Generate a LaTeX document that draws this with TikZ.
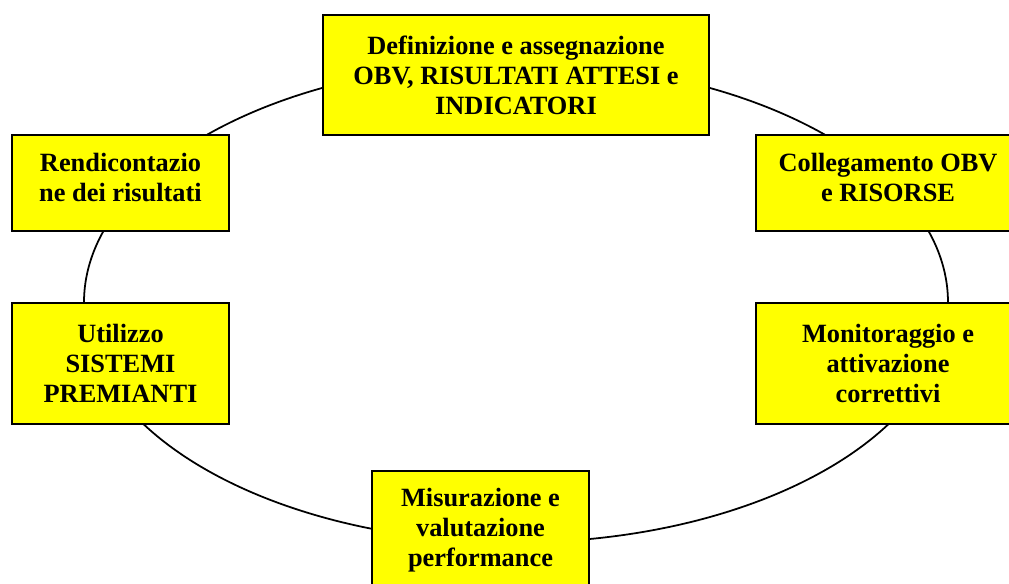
\documentclass[tikz,border=0pt]{standalone}
\usepackage{fontspec}
\setmainfont{Liberation Serif}
\usetikzlibrary{positioning}
\definecolor{phaseyellow}{RGB}{255,255,0}
\tikzset{phase/.style={draw, line width=1.1pt, fill=phaseyellow, align=center, inner sep=0pt,
  font=\bfseries\fontsize{15pt}{17pt}\selectfont}}
\tikzset{twoline/.style={text depth=6.5pt}}

\begin{document}
\begin{tikzpicture}[x=0.02cm, y=-0.02cm]
\useasboundingbox (0,0) rectangle (1009,584);
\clip (0,0) rectangle (1009,584);
\coordinate (C) at (516,302.5);
\draw [line width=1pt] (C) ellipse [x radius=432, y radius=240];

\node (DEF) [phase, minimum width=7.72cm, minimum height=2.4cm] at (516,75)
  {Definizione e assegnazione\\OBV, RISULTATI ATTESI e\\INDICATORI};
\node (REN) [phase, twoline, minimum width=4.34cm, minimum height=1.92cm] at (120.5,183)
  {Rendicontazio\\ne dei risultati};
\node (COL) [phase, twoline, minimum width=5.28cm, minimum height=1.92cm] at (888,183)
  {Collegamento OBV\\e RISORSE};
\node (UTI) [phase, minimum width=4.34cm, minimum height=2.42cm] at (120.5,363.5)
  {Utilizzo\\SISTEMI\\PREMIANTI};
\node (MON) [phase, minimum width=5.28cm, minimum height=2.42cm] at (888,363.5)
  {Monitoraggio e\\attivazione\\correttivi};
\node (MIS) [phase, minimum width=4.34cm, minimum height=2.36cm] at (480.5,530)
  {Misurazione e\\valutazione\\performance};
\end{tikzpicture}
\end{document}
